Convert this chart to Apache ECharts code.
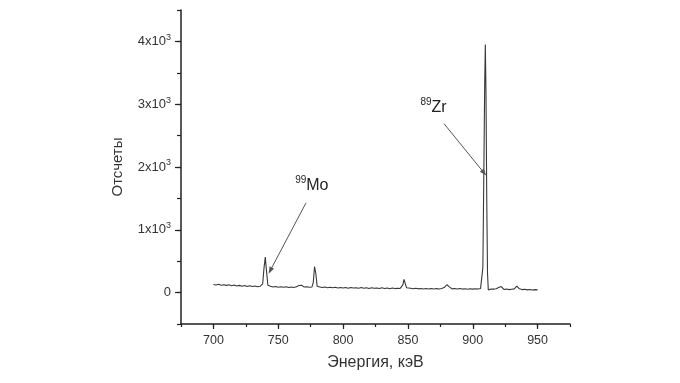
<!DOCTYPE html>
<html>
<head>
<meta charset="utf-8">
<script src="https://cdn.jsdelivr.net/npm/echarts@6/dist/echarts.min.js"></script>
<style>html,body{margin:0;padding:0;background:#fff;}#c{width:680px;height:383px;}</style>
</head>
<body>
<div id="c"></div>
<script>
// Energy (keV) and counts
var energies = [700,702,704,706,708,710,712,714,716,718,720,722,724,726,728,730,732,734,736,737,738,739,740,741,742,743,744,746,748,750,752,754,756,758,760,762,764,765,766,767,768,769,770,772,774,776,777,778,779,780,781,782,784,786,788,790,792,794,796,798,800,802,804,806,808,810,812,814,816,818,820,822,824,826,828,830,832,834,836,838,840,842,844,845,846,847,848,849,850,852,854,856,858,860,862,864,866,868,870,872,874,876,878,879,880,881,882,883,884,886,888,890,892,894,896,898,900,902,904,906,907,907.8,908.5,909.2,909.7,910.2,910.8,911.4,912,913,914,916,918,920,921,922,923,924,926,928,930,932,933,934,935,936,938,940,942,944,946,948,950];
var counts = [130,122,134,118,126,115,124,110,120,106,115,102,112,98,108,96,104,92,100,96,140,390,565,330,118,92,100,88,96,86,94,84,92,82,90,82,92,100,112,104,118,100,88,92,84,90,160,415,300,100,84,90,80,88,78,86,76,84,74,82,72,80,70,82,72,78,68,80,70,76,66,78,68,74,64,76,66,72,62,74,64,70,66,80,120,210,140,76,64,70,62,68,60,66,58,66,58,64,56,64,58,66,80,105,125,118,92,70,60,66,56,64,56,62,54,62,56,62,56,64,72,400,1800,3300,3950,3200,1500,300,40,50,56,56,62,80,110,96,66,50,56,48,54,60,80,105,90,60,48,52,44,50,42,48,44];

var xTickValues = [700,750,800,850,900,950];
var yTickValues = [0,1000,2000,3000,4000];

// Annotations
var annoSup = ['99','89'];
var annoMain = ['Mo','Zr'];
var annoPos = [[775.9,1704],[869.8,2946]];
var arrowFrom = [[771.4,1428],[877.8,2691]];
var arrowTo = [[743.8,350],[908.7,1906]];

var FONT = "'Liberation Sans', Arial, sans-serif";
var chart = echarts.init(document.getElementById('c'), null, {renderer:'canvas'});

var series = [{
  type:'line',
  data: energies.map(function(e,i){return [e,counts[i]];}),
  symbol:'none',
  lineStyle:{color:'#383838', width:1.1},
  silent:true,
  markLine:{
    silent:true,
    symbol:['none','triangle'],
    symbolSize:[5,7],
    lineStyle:{color:'#555', width:1, type:'solid'},
    itemStyle:{color:'#333'},
    label:{show:false},
    data: arrowFrom.map(function(f,i){return [{coord:f},{coord:arrowTo[i]}];})
  },
  markPoint:{
    silent:true,
    symbol:'circle',
    symbolSize:1,
    itemStyle:{color:'rgba(0,0,0,0)'},
    label:{
      show:true,
      position:'inside',
      formatter:function(p){return '{s|'+annoSup[p.dataIndex]+'}{m|'+annoMain[p.dataIndex]+'}';},
      rich:{
        s:{fontSize:10, lineHeight:8, verticalAlign:'top', color:'#222', fontFamily:FONT},
        m:{fontSize:16, lineHeight:20, color:'#222', fontFamily:FONT}
      }
    },
    data: annoPos.map(function(p){return {coord:p};})
  }
}];

var option = {
  animation:false,
  backgroundColor:'#fff',
  grid:{left:181, right:110, top:10, bottom:59},
  xAxis:[{
    type:'value', min:675, max:975,
    axisLine:{show:true, onZero:false, lineStyle:{color:'#222', width:1.5}},
    axisTick:{show:true, customValues:xTickValues, length:5, lineStyle:{color:'#222', width:1.2}},
    axisLabel:{customValues:xTickValues, fontSize:12.5, color:'#333', margin:10, fontFamily:FONT},
    splitLine:{show:false},
    name:'Энергия, кэВ', nameLocation:'middle', nameGap:31,
    nameTextStyle:{fontSize:16, color:'#333', fontFamily:FONT}
  },{
    type:'value', min:675, max:975, interval:25, position:'bottom',
    axisLine:{show:false, onZero:false},
    axisTick:{show:true, length:3, lineStyle:{color:'#222', width:1.2}},
    axisLabel:{show:false},
    splitLine:{show:false}
  }],
  yAxis:[{
    type:'value', min:-500, max:4500,
    axisLine:{show:true, onZero:false, lineStyle:{color:'#222', width:1.5}},
    axisTick:{show:true, customValues:yTickValues, length:6, lineStyle:{color:'#222', width:1.2}},
    axisLabel:{
      customValues:yTickValues, margin:10, color:'#333', fontFamily:FONT,
      formatter:function(v){ if(v===0) return '{b|0}'; return '{b|'+(v/1000)+'x10}{s|3}'; },
      rich:{
        b:{fontSize:13, lineHeight:17, color:'#333', fontFamily:FONT},
        s:{fontSize:9, lineHeight:8, verticalAlign:'top', color:'#333', fontFamily:FONT}
      }
    },
    splitLine:{show:false},
    name:'Отсчеты', nameLocation:'middle', nameGap:56,
    nameTextStyle:{fontSize:15, color:'#333', fontFamily:FONT}
  },{
    type:'value', min:-500, max:4500, interval:500, position:'left',
    axisLine:{show:false, onZero:false},
    axisTick:{show:true, length:4, lineStyle:{color:'#222', width:1.2}},
    axisLabel:{show:false},
    splitLine:{show:false}
  }],
  series:series
};
chart.setOption(option);
</script>
</body>
</html>
